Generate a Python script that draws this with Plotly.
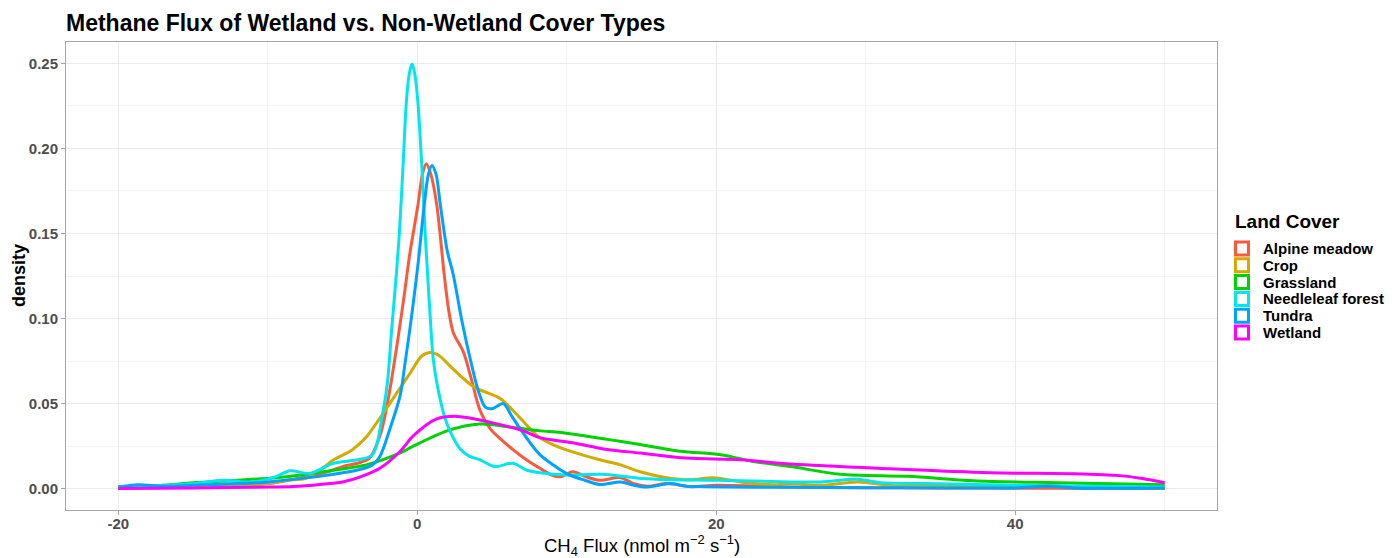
import plotly.graph_objects as go

# ---- data ----
categories = ["Alpine meadow", "Crop", "Grassland", "Needleleaf forest", "Tundra", "Wetland"]
colors = ["#FA5A3C", "#D2AA00", "#00D200", "#00E5EE", "#00A2FF", "#FF00FF"]

alpine_x = [-20, -15, -12, -10, -8, -6, -5, -4, -3.2, -2.5, -2.0, -1.4, -0.9, -0.5, 0.05, 0.35, 0.6, 0.9, 1.3, 1.8,
            2.1, 2.4, 3.1, 3.6, 4.2, 4.9, 5.6, 6.4, 7.3, 8.2, 9.0, 9.6, 10.4, 11.3, 12.2, 13.6, 14.5, 15.4, 16.7, 18.3,
            20, 25, 30, 35, 40, 45, 50]
alpine_y = [0.0005, 0.001, 0.002, 0.003, 0.006, 0.01, 0.013, 0.015, 0.018, 0.031, 0.05, 0.082, 0.112, 0.138, 0.167,
            0.185, 0.191, 0.185, 0.167, 0.126, 0.105, 0.092, 0.08, 0.065, 0.046, 0.035, 0.029, 0.023, 0.017, 0.012,
            0.008, 0.007, 0.01, 0.007, 0.005, 0.0065, 0.003, 0.0015, 0.003, 0.0012, 0.002, 0.001, 0.0006, 0.0005,
            0.0003, 0.0002, 0.0002]

crop_x = [-20, -15, -12, -10, -8.7, -7.5, -6.5, -5.6, -4.5, -3.8, -3.35, -2.0, -0.47, 0.3, 0.9, 1.5, 2.2, 3.75, 5.55,
          6.4, 7.8, 8.2, 9.6, 12.2, 13.6, 14.9, 16.7, 18.3, 19.8, 22, 23.8, 25, 27, 29.5, 32, 35, 38, 42, 45, 50]
crop_y = [0.0005, 0.001, 0.002, 0.003, 0.005, 0.006, 0.011, 0.017, 0.022, 0.027, 0.031, 0.048, 0.068, 0.078, 0.08,
          0.078, 0.072, 0.06, 0.053, 0.046, 0.033, 0.03, 0.024, 0.017, 0.014, 0.01, 0.0065, 0.0053, 0.0065, 0.0035,
          0.0024, 0.003, 0.002, 0.004, 0.0015, 0.0015, 0.001, 0.002, 0.0007, 0.0005]

grass_x = [-20, -17, -15, -12, -9.4, -7.8, -5.5, -3.4, -1.14, -0.27, 2, 4.2, 6.4, 8.2, 9.6, 12.7, 14.9, 17.6, 20.3,
           22.5, 25, 28.3, 32.8, 37.2, 42.8, 50]
grass_y = [0.001, 0.002, 0.0035, 0.005, 0.0065, 0.008, 0.011, 0.014, 0.021, 0.025, 0.034, 0.038, 0.036, 0.034, 0.033,
           0.029, 0.026, 0.022, 0.02, 0.016, 0.013, 0.0085, 0.0073, 0.0047, 0.0035, 0.0024]

needle_x = [-20, -17, -15, -13, -11, -9.5, -8.5, -7.2, -5.6, -4, -3, -2.3, -2.0, -1.7, -1.4, -1.2, -0.95, -0.74, -0.55,
            -0.35, -0.15, 0.05, 0.3, 0.53, 0.69, 0.9, 1.07, 1.4, 1.87, 2.4, 2.9, 3.5, 4.2, 5.2, 6.4, 7.3, 8.2, 10,
            12.4, 15, 17, 20, 25, 27, 29.4, 31, 34, 40, 45, 50]
needle_y = [0.001, 0.002, 0.003, 0.005, 0.004, 0.007, 0.0105, 0.009, 0.015, 0.017, 0.02, 0.045, 0.062, 0.095, 0.126,
            0.15, 0.19, 0.226, 0.243, 0.2495, 0.243, 0.226, 0.19, 0.15, 0.126, 0.096, 0.076, 0.058, 0.041, 0.03,
            0.023, 0.019, 0.017, 0.013, 0.015, 0.011, 0.0094, 0.008, 0.0085, 0.006, 0.0053, 0.005, 0.004, 0.004,
            0.0055, 0.0035, 0.003, 0.002, 0.0015, 0.001]

tundra_x = [-20, -18.7, -17, -15, -12, -10, -8.3, -6, -4, -3, -2.5, -1.8, -1.14, -0.8, -0.4, 0.05, 0.47, 0.75, 0.98,
            1.25, 1.54, 2.0, 2.4, 3.0, 3.55, 4.1, 4.55, 5.0, 5.75, 6.3, 6.9, 8.2, 9.6, 10.2, 11.2, 12.2, 13.6, 14.5,
            15.4, 16.9, 18, 19.4, 25, 30, 35, 40, 42.1, 44, 50]
tundra_y = [0.001, 0.0024, 0.0015, 0.002, 0.003, 0.004, 0.0055, 0.008, 0.011, 0.014, 0.019, 0.036, 0.055, 0.075, 0.1,
            0.132, 0.167, 0.185, 0.19, 0.185, 0.167, 0.14, 0.126, 0.098, 0.076, 0.057, 0.048, 0.047, 0.05, 0.043,
            0.035, 0.02, 0.011, 0.008, 0.005, 0.0025, 0.004, 0.002, 0.001, 0.003, 0.0015, 0.0012, 0.0008, 0.0006,
            0.0005, 0.0005, 0.0015, 0.0005, 0.0004]

wet_x = [-20, -15, -10, -8.3, -6.5, -5, -3.8, -2.5, -1.14, -0.27, 1.3, 2.7, 4.9, 7.1, 8.2, 10.4, 12.7, 14.9, 18, 21.6,
         25, 31.6, 38.3, 43.9, 47, 48.5, 50]
wet_y = [0.0002, 0.0005, 0.001, 0.0013, 0.0025, 0.004, 0.007, 0.012, 0.022, 0.031, 0.041, 0.0425, 0.039, 0.034, 0.030,
         0.027, 0.023, 0.021, 0.018, 0.017, 0.0145, 0.0117, 0.0094, 0.0088, 0.0077, 0.006, 0.0035]

series_x = [alpine_x, crop_x, grass_x, needle_x, tundra_x, wet_x]
series_y = [alpine_y, crop_y, grass_y, needle_y, tundra_y, wet_y]

x_tickvals = [-20, 0, 20, 40]
x_ticktext = ["-20", "0", "20", "40"]
y_tickvals = [0.00, 0.05, 0.10, 0.15, 0.20, 0.25]
y_ticktext = ["0.00", "0.05", "0.10", "0.15", "0.20", "0.25"]

FONT = "Liberation Sans, Arial, sans-serif"

# page offset (browser body margin) and figure geometry in page pixels
OFF = 8
W, H = 1400 - OFF, 558 - OFF
PL, PR, PT, PB = 66, 1217, 42, 510  # panel edges in page pixels
PW, PH = PR - PL, PB - PT


def px_x(px):
    return (px - PL) / PW


def px_y(py):
    return (PB - py) / PH


fig = go.Figure()
for name, col, xs, ys in zip(categories, colors, series_x, series_y):
    fig.add_trace(go.Scatter(x=xs, y=ys, mode="lines", name=name, showlegend=False,
                             line=dict(color=col, width=3, shape="spline", smoothing=0.9),
                             hoverinfo="skip"))

fig.update_layout(
    width=W, height=H,
    paper_bgcolor="white", plot_bgcolor="white",
    margin=dict(l=PL - OFF, r=W + OFF - PR, t=PT - OFF, b=H + OFF - PB),
    font=dict(family=FONT, color="#000000"),
    title=dict(text="<b>Methane Flux of Wetland vs. Non-Wetland Cover Types</b>",
               x=(PL - OFF) / W, xref="container", xanchor="left",
               y=1 - (23 - OFF) / H, yref="container", yanchor="middle",
               font=dict(size=23, family=FONT, color="#000000")),
    showlegend=False,
)

fig.update_xaxes(range=[-23.5, 53.5], tickvals=x_tickvals, ticktext=x_ticktext,
                 showgrid=True, gridcolor="#EBEBEB", gridwidth=1,
                 minor=dict(dtick=10, tick0=0, showgrid=True, gridcolor="#F4F4F4", gridwidth=1),
                 showline=True, linecolor="#A6A6A6", linewidth=1, mirror=True,
                 ticks="outside", ticklen=4, tickcolor="#A6A6A6", ticklabelstandoff=-4,
                 tickfont=dict(size=15, family=FONT, color="#4D4D4D", weight="bold"),
                 zeroline=False)
fig.update_yaxes(range=[-0.0125, 0.2625], tickvals=y_tickvals, ticktext=y_ticktext,
                 showgrid=True, gridcolor="#EBEBEB", gridwidth=1,
                 minor=dict(dtick=0.025, tick0=0, showgrid=True, gridcolor="#F4F4F4", gridwidth=1),
                 showline=True, linecolor="#A6A6A6", linewidth=1, mirror=True,
                 ticks="outside", ticklen=4, tickcolor="#A6A6A6",
                 tickfont=dict(size=15, family=FONT, color="#4D4D4D", weight="bold"),
                 zeroline=False)

# axis titles
fig.add_annotation(text="CH<sub>4</sub> Flux (nmol m<sup>\u22122</sup> s<sup>\u22121</sup>)",
                   xref="paper", yref="paper", x=0.5, y=px_y(545),
                   xanchor="center", yanchor="middle", showarrow=False,
                   font=dict(size=18.5, family=FONT, color="#000000"))
fig.add_annotation(text="<b>density</b>", textangle=-90,
                   xref="paper", yref="paper", x=px_x(19), y=0.5,
                   xanchor="center", yanchor="middle", showarrow=False,
                   font=dict(size=18, family=FONT, color="#000000"))

# legend (drawn like ggplot: title + outlined square keys)
fig.add_annotation(text="<b>Land Cover</b>", xref="paper", yref="paper",
                   x=px_x(1233), y=px_y(222), xanchor="left", yanchor="middle", showarrow=False,
                   font=dict(size=19, family=FONT, color="#000000"))
KEY_Y0, KEY_DY, KEY_S = 248.5, 16.8, 13
for i, (name, col) in enumerate(zip(categories, colors)):
    cy = KEY_Y0 + i * KEY_DY
    cx = 1242
    fig.add_shape(type="rect", xref="paper", yref="paper",
                  x0=px_x(cx - KEY_S / 2), x1=px_x(cx + KEY_S / 2),
                  y0=px_y(cy - KEY_S / 2), y1=px_y(cy + KEY_S / 2),
                  line=dict(color=col, width=3), fillcolor="rgba(0,0,0,0)")
    fig.add_annotation(text="<b>%s</b>" % name, xref="paper", yref="paper",
                       x=px_x(1261), y=px_y(cy), xanchor="left", yanchor="middle", showarrow=False,
                       font=dict(size=15, family=FONT, color="#000000"))

fig.write_html("out.html")
